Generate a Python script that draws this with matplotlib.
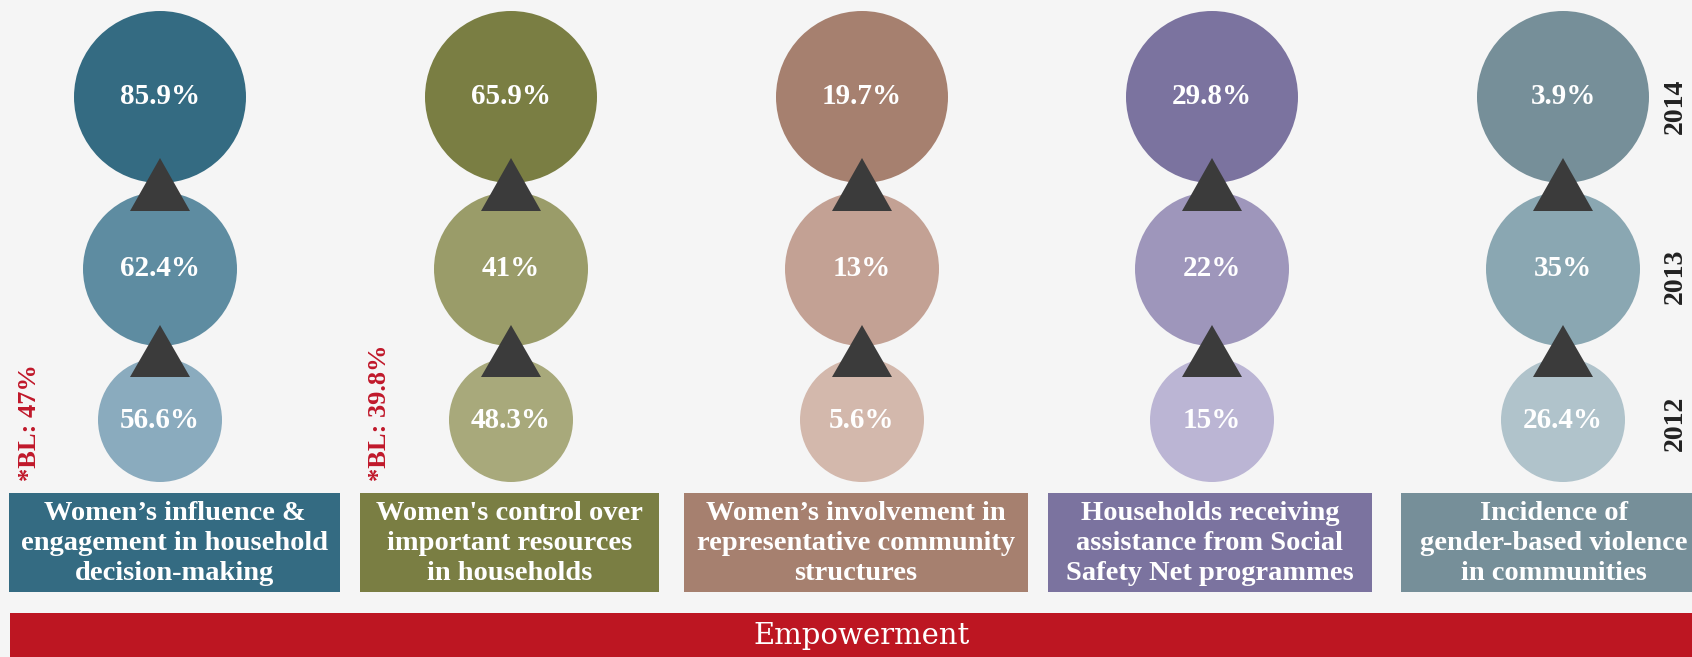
import matplotlib.pyplot as plt
from matplotlib.patches import Circle, Polygon, Rectangle

# data
years = ['2014', '2013', '2012']
labels_2014 = ['85.9%', '65.9%', '19.7%', '29.8%', '3.9%']
labels_2013 = ['62.4%', '41%', '13%', '22%', '35%']
labels_2012 = ['56.6%', '48.3%', '5.6%', '15%', '26.4%']
baselines = ['*BL: 47%', '*BL: 39.8%', None, None, None]
indicators = [
    'Women\u2019s influence &\nengagement in household\ndecision-making',
    "Women's control over\nimportant resources\nin households",
    'Women\u2019s involvement in\nrepresentative community\nstructures',
    'Households receiving\nassistance from Social\nSafety Net programmes',
    'Incidence of\ngender-based violence\nin communities',
]
banner_text = 'Empowerment'

# colours per column: (2014, 2013, 2012)
colors = [
    ('#346b82', '#5e8ca1', '#8aabbe'),
    ('#7a7e43', '#9a9c69', '#a8a97b'),
    ('#a6806f', '#c3a194', '#d3b8ac'),
    ('#7b739f', '#9e96bb', '#bbb5d4'),
    ('#768f99', '#8aa7b2', '#b0c3cb'),
]
bg = '#f5f5f5'
tri_color = '#3b3b3b'
red = '#bd1622'

# layout (pixel units, y downwards)
col_x = [160, 511, 862, 1212, 1563]
row_y = [97, 269, 420]
radii = [86, 77, 62]
boxes = [(9, 340), (360, 659), (684, 1028), (1048, 1372), (1401, 1707)]
box_top, box_bot = 493, 592

fig = plt.figure(figsize=(16.92, 6.57), dpi=100, facecolor=bg)
ax = fig.add_axes([0, 0, 1, 1])
ax.set_xlim(0, 1692)
ax.set_ylim(657, 0)
ax.set_facecolor(bg)
ax.axis('off')

serif = ['Liberation Serif', 'DejaVu Serif']
row_labels = [labels_2014, labels_2013, labels_2012]

for i, cx in enumerate(col_x):
    for r in range(3):
        ax.add_patch(Circle((cx, row_y[r]), radii[r], color=colors[i][r], lw=0, zorder=1))
        ax.text(cx, row_y[r], row_labels[r][i], color='white', fontsize=21,
                fontweight='bold', family=serif, ha='center', va='center', zorder=4)
    # arrows between the circles
    for apex, base in [(158, 211), (325, 377)]:
        ax.add_patch(Polygon([(cx, apex), (cx - 30, base), (cx + 30, base)],
                             closed=True, color=tri_color, lw=0, zorder=3))
    # label boxes
    x0, x1 = boxes[i]
    ax.add_patch(Rectangle((x0, box_top), x1 - x0, box_bot - box_top,
                           color=colors[i][0], lw=0, zorder=1))
    ax.text((x0 + x1) / 2, (box_top + box_bot) / 2 + 1, indicators[i], color='white',
            fontsize=20.5, fontweight='bold', family=serif, ha='center', va='center',
            linespacing=1.25, zorder=4)
    if baselines[i]:
        ax.text(cx - 131, 481, baselines[i], color='#c0182a', fontsize=19,
                fontweight='bold', family=serif, rotation=90, ha='center', va='bottom')

# year labels on the right
for y, yr in zip([106, 276, 423], years):
    ax.text(1675, y, yr, rotation=90, fontsize=20, fontweight='bold', family=serif,
            color='#222222', ha='center', va='center')

# banner
ax.add_patch(Rectangle((10, 613), 1700, 60, color=red, lw=0, zorder=1))
ax.text(862, 636, banner_text, color='white', fontsize=21, family='DejaVu Serif',
        ha='center', va='center', zorder=4)

fig.savefig('out.png', dpi=100, facecolor=bg)
